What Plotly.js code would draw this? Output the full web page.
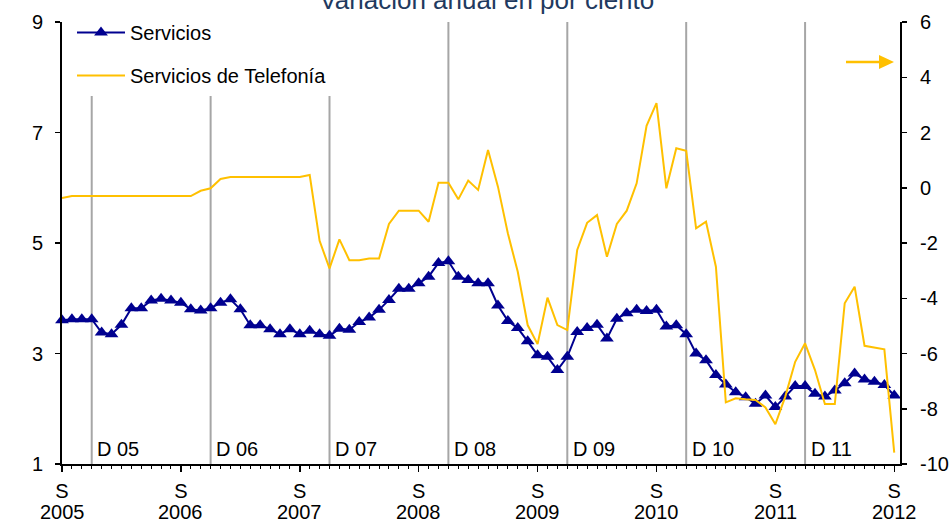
<!DOCTYPE html>
<html>
<head>
<meta charset="utf-8">
<script src="https://cdn.plot.ly/plotly-3.0.1.min.js"></script>
<style>
  html, body { margin: 0; padding: 0; background: #fff; }
  #chart { width: 949px; height: 522px; }
</style>
</head>
<body>
<div id="chart"></div>
<script>
// Monthly data, September 2005 – September 2012 (annual % change)
const titleText = "Variación anual en por ciento";
const seriesNames = ["Servicios", "Servicios de Telefonía"];

const servicios = [
  3.60, 3.62, 3.62, 3.62, 3.38, 3.35, 3.52, 3.82, 3.82, 3.96, 3.99, 3.96,
  3.92, 3.80, 3.78, 3.82, 3.92, 3.98, 3.80, 3.51, 3.51, 3.44, 3.35, 3.44,
  3.35, 3.41, 3.35, 3.32, 3.45, 3.43, 3.57, 3.65, 3.79, 3.97, 4.17, 4.17,
  4.27, 4.39, 4.64, 4.67, 4.39, 4.33, 4.27, 4.27, 3.87, 3.59, 3.46, 3.22,
  2.97, 2.94, 2.70, 2.94, 3.39, 3.46, 3.52, 3.27, 3.63, 3.73, 3.79, 3.77,
  3.79, 3.49, 3.51, 3.35, 3.00, 2.88, 2.61, 2.44, 2.30, 2.21, 2.09, 2.24,
  2.03, 2.22, 2.41, 2.41, 2.27, 2.22, 2.33, 2.46, 2.64, 2.53, 2.49, 2.43,
  2.24
];

const telefonia = [
  -0.37, -0.30, -0.30, -0.30, -0.30, -0.30, -0.30, -0.30, -0.30, -0.30, -0.30, -0.30,
  -0.30, -0.30, -0.11, -0.02, 0.32, 0.39, 0.39, 0.39, 0.39, 0.39, 0.39, 0.39,
  0.39, 0.46, -1.92, -2.92, -1.87, -2.62, -2.62, -2.56, -2.56, -1.31, -0.83, -0.83,
  -0.83, -1.23, 0.18, 0.18, -0.42, 0.26, -0.08, 1.37, 0.04, -1.65, -3.04, -4.97,
  -5.66, -3.98, -4.97, -5.15, -2.25, -1.27, -0.99, -2.50, -1.31, -0.83, 0.16, 2.24,
  3.06, -0.02, 1.43, 1.34, -1.47, -1.23, -2.86, -7.77, -7.62, -7.66, -7.68, -7.95,
  -8.56, -7.56, -6.30, -5.63, -6.60, -7.83, -7.83, -4.18, -3.58, -5.72, -5.78, -5.85,
  -9.59
];

// x tick positions (month index from Sep 2005) and labels
const xTickVals = [0, 12, 24, 36, 48, 60, 72, 84];
const xTickMonth = ["S", "S", "S", "S", "S", "S", "S", "S"];
const xTickYear = ["2005", "2006", "2007", "2008", "2009", "2010", "2011", "2012"];

// December markers (month index) and their labels
const decMonths = [3, 15, 27, 39, 51, 63, 75];
const decLabels = ["D 05", "D 06", "D 07", "D 08", "D 09", "D 10", "D 11"];

const leftTicks = [1, 3, 5, 7, 9];
const rightTicks = [-10, -8, -6, -4, -2, 0, 2, 4, 6];
const rightTickText = ["-10", "-8", "-6", "-4", "-2", "0", "2", "4", "6"];

const monthIdx = servicios.map((_, i) => i);

const NAVY = "#000090";
const GOLD = "#FFC000";
const FONT = "Liberation Sans, Arial, sans-serif";

const traces = [
  {
    x: monthIdx, y: servicios, name: seriesNames[0], type: "scatter", mode: "lines+markers",
    line: { color: NAVY, width: 2 },
    marker: { symbol: "triangle-up", size: 12, color: NAVY },
    yaxis: "y", cliponaxis: false, legendgroup: "a"
  },
  {
    x: monthIdx, y: telefonia, name: seriesNames[1], type: "scatter", mode: "lines",
    line: { color: GOLD, width: 2 },
    yaxis: "y2", cliponaxis: false, legendgroup: "b"
  }
];

// plot area in pixels: left 62, right 900, top 22, bottom 464
const L = 62, R = 900, T = 22, B = 464;
const px2x = p => (p - L) / (R - L);
const px2y = p => (B - p) / (B - T);

const shapes = decMonths.map((m, k) => ({
  type: "line", xref: "x", yref: "paper",
  x0: m, x1: m, y0: 0, y1: k < 3 ? px2y(96) : 1,
  line: { color: "#A6A6A6", width: 2 }, layer: "below"
}));

// arrow pointing to right axis
shapes.push({
  type: "line", xref: "paper", yref: "paper",
  x0: px2x(846), x1: px2x(881), y0: px2y(62), y1: px2y(62),
  line: { color: GOLD, width: 2.5 }
});
shapes.push({
  type: "path", xref: "paper", yref: "paper",
  path: `M ${px2x(879)} ${px2y(55)} L ${px2x(894)} ${px2y(62)} L ${px2x(879)} ${px2y(69)} Z`,
  fillcolor: GOLD, line: { color: GOLD, width: 0 }
});

const annotations = decMonths.map((m, k) => ({
  x: m + 0.35, y: px2y(449), xref: "x", yref: "paper",
  text: decLabels[k], showarrow: false, xanchor: "left", yanchor: "middle",
  font: { family: FONT, size: 20, color: "#000" }
}));

// year line of the x tick labels
xTickVals.forEach((v, k) => annotations.push({
  x: v, y: px2y(511.5), xref: "x", yref: "paper",
  text: xTickYear[k], showarrow: false, xanchor: "center", yanchor: "middle",
  font: { family: FONT, size: 20, color: "#000" }
}));

const layout = {
  width: 949, height: 522,
  margin: { l: L, r: 949 - R, t: T, b: 522 - B, pad: 0 },
  paper_bgcolor: "#fff", plot_bgcolor: "#fff",
  font: { family: FONT, size: 20, color: "#000" },
  title: {
    text: titleText, x: 0.513, xanchor: "center", y: 1, yref: "container", yanchor: "middle",
    font: { family: FONT, size: 26, color: "#1F3A60" }
  },
  showlegend: true,
  legend: {
    x: px2x(72), y: px2y(13), xanchor: "left", yanchor: "top",
    bgcolor: "rgba(0,0,0,0)", borderwidth: 0,
    font: { family: FONT, size: 20, color: "#000" },
    traceorder: "grouped", tracegroupgap: 14, itemwidth: 48
  },
  xaxis: {
    range: [0, 84.58], showgrid: false, zeroline: false,
    showline: true, linecolor: "#000", linewidth: 2,
    tickmode: "array", tickvals: xTickVals, ticktext: xTickMonth,
    ticks: "outside", ticklen: 6, tickwidth: 1.5, tickcolor: "#000",
    ticklabelstandoff: 2,
    tickfont: { family: FONT, size: 20, color: "#000" },
    minor: { tickmode: "linear", tick0: 0, dtick: 1, ticks: "outside", ticklen: 3, tickwidth: 1, tickcolor: "#000" }
  },
  yaxis: {
    range: [1, 9], showgrid: false, zeroline: false,
    showline: true, linecolor: "#000", linewidth: 2,
    tickmode: "array", tickvals: leftTicks,
    ticks: "outside", ticklen: 5, tickwidth: 1.5, tickcolor: "#000",
    ticklabelstandoff: 8,
    tickfont: { family: FONT, size: 20, color: "#000" }
  },
  yaxis2: {
    range: [-10, 6], overlaying: "y", side: "right", showgrid: false, zeroline: false,
    showline: true, linecolor: "#000", linewidth: 2,
    tickmode: "array", tickvals: rightTicks, ticktext: rightTickText,
    ticks: "outside", ticklen: 5, tickwidth: 1.5, tickcolor: "#000",
    ticklabelstandoff: 9,
    tickfont: { family: FONT, size: 20, color: "#000" }
  },
  shapes: shapes,
  annotations: annotations
};

Plotly.newPlot("chart", traces, layout, { displayModeBar: false, staticPlot: true });
</script>
</body>
</html>
